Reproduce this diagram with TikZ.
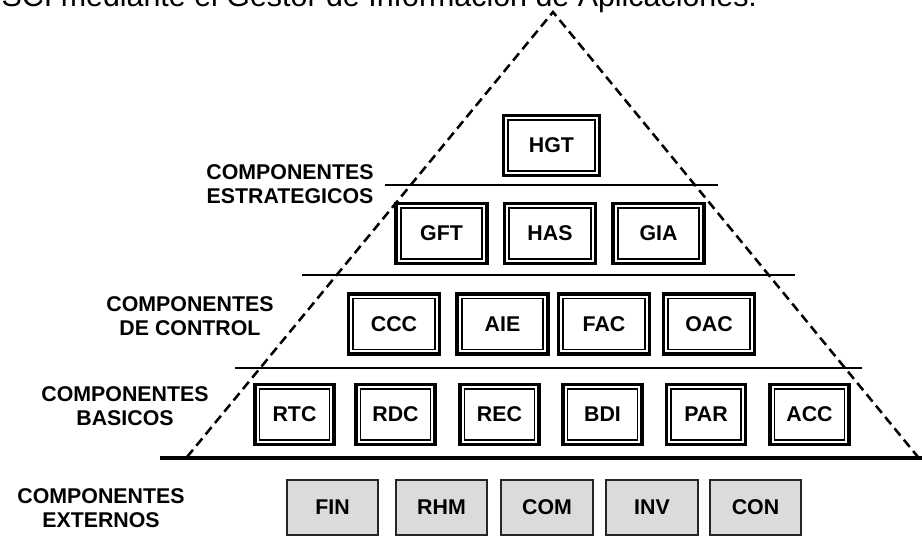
\documentclass[tikz,border=0pt]{standalone}
\usepackage{fontspec}
\setmainfont{Liberation Sans}
\usepackage{tikz}
\usetikzlibrary{positioning}
\newcommand{\grupo}[1]{COMPONENTES\\#1}

\begin{document}
\begin{tikzpicture}[x=0.75pt,y=-0.75pt]
\tikzstyle{mod}=[rectangle, draw=black, line width=2.6pt, outer sep=0pt, fill=white, font=\bfseries\fontsize{16}{17.6}\selectfont]
\tikzstyle{big}=[mod, minimum width=72pt, minimum height=45pt]
\tikzstyle{mid}=[mod, minimum width=68pt, minimum height=45pt]
\tikzstyle{small}=[mod, minimum width=59.25pt, minimum height=45pt]
\tikzstyle{ext}=[rectangle, draw=black!85, line width=1.4pt, outer sep=0pt, fill=black!14, minimum width=68.5pt, minimum height=41.5pt, font=\bfseries\fontsize{16}{17.6}\selectfont]
\tikzstyle{inner}=[line width=1.2pt]
\tikzstyle{group}=[align=center, font=\bfseries\fontsize{16}{17.6}\selectfont]
\tikzstyle{side}=[line width=1.9pt, dash pattern=on 7pt off 4pt]
\tikzstyle{level}=[line width=1.1pt]
\tikzstyle{ground}=[line width=3.2pt]

	\useasboundingbox (0,0) rectangle (922,550);
	\clip (0,0) rectangle (922,550);

	\node[anchor=base west, font=\fontsize{22.8}{24}\selectfont] (head) at (-3,6) {SCI mediante el Gestor de Información de Aplicaciones.};

	% pyramid
	\coordinate (top) at (553,12);
	\coordinate (bl) at (187,457);
	\coordinate (br) at (918,457);
	\draw[side] (bl) -- (top) -- (br);

	\coordinate (s1l) at (385,185);
	\coordinate (s1r) at (718,185);
	\coordinate (s2l) at (302,275);
	\coordinate (s2r) at (795,275);
	\coordinate (s3l) at (235,368);
	\coordinate (s3r) at (862,368);
	\coordinate (gl) at (160,458);
	\coordinate (gr) at (924,458);

	\path
		(s1l) edge [level] (s1r)
		(s2l) edge [level] (s2r)
		(s3l) edge [level] (s3r)
		(gl) edge [ground] (gr);

	% labels
	\node[group] (estr) at (290,184) {\grupo{ESTRATEGICOS}};
	\node[group] (ctrl) at (190,316) {\grupo{DE CONTROL}};
	\node[group] (basi) at (125,406) {\grupo{BASICOS}};
	\node[group] (exte) at (101,508) {\grupo{EXTERNOS}};

	% strategic
	\node[big] (hgt) at (551.5,145.5) {HGT};

	\node[mid] (gft) at (441.5,233.5) {GFT};
	\node[mid] (has) at (550,233.5) {HAS};
	\node[mid] (gia) at (658.5,233.5) {GIA};

	% control
	\node[mid] (ccc) at (394,324) {CCC};
	\node[mid] (aie) at (502.5,324) {AIE};
	\node[mid] (fac) at (604,324) {FAC};
	\node[mid] (oac) at (709,324) {OAC};

	% basic
	\node[small] (rtc) at (294.5,414.5) {RTC};
	\node[small] (rdc) at (395.5,414.5) {RDC};
	\node[small] (rec) at (499.5,414.5) {REC};
	\node[small] (bdi) at (602.5,414.5) {BDI};
	\node[small] (par) at (706,414.5) {PAR};
	\node[small] (acc) at (809.5,414.5) {ACC};

	\foreach \n in {hgt,gft,has,gia,ccc,aie,fac,oac,rtc,rdc,rec,bdi,par,acc}
		\draw[inner] ([shift={(4.6,4.6)}]\n.north west) rectangle ([shift={(-4.6,-4.6)}]\n.south east);

	% external
	\node[ext] (fin) at (332.5,507.5) {FIN};
	\node[ext] (rhm) at (441.5,507.5) {RHM};
	\node[ext] (com) at (547,507.5) {COM};
	\node[ext] (inv) at (652,507.5) {INV};
	\node[ext] (con) at (755.5,507.5) {CON};

\end{tikzpicture}
\end{document}
